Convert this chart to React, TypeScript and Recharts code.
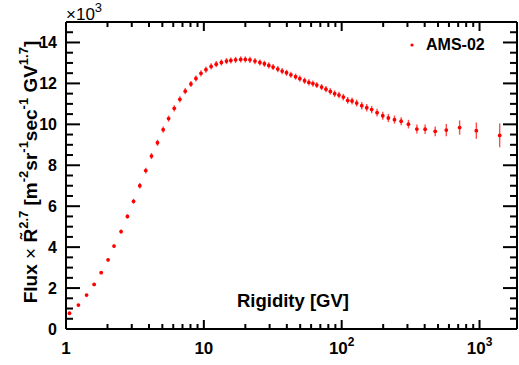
import React from 'react'
import { ScatterChart, Scatter, XAxis, YAxis, ErrorBar, ReferenceLine, Legend } from 'recharts'

// AMS-02 flux x R^2.7, values in units of 10^3
const rigidity = [
  1.06, 1.23, 1.41, 1.6, 1.8, 2.02, 2.23, 2.51, 2.79, 3.09, 3.43, 3.79, 4.17, 4.61, 5.07, 5.55,
  6.1, 6.7, 7.33, 8.06, 8.76, 9.53, 10.36, 11.3, 12.3, 13.4, 14.6, 15.7, 17.0, 18.5, 20.0, 21.6,
  23.5, 25.5, 27.5, 29.6, 31.8, 34.4, 37, 39.8, 42.8, 46.3, 49.7, 53.8, 57.8, 61.8, 66, 71.5,
  76.9, 82.7, 88.9, 95.6, 102.8, 110.6, 118.9, 128.5, 139.8, 152, 165, 180.6, 198.6, 218, 241.5,
  270, 305, 351, 403, 477, 574, 717, 948, 1400,
]
const flux = [
  0.77, 1.17, 1.66, 2.18, 2.75, 3.38, 4.05, 4.76, 5.5, 6.24, 7.0, 7.74, 8.45, 9.1, 9.74, 10.28,
  10.78, 11.22, 11.62, 11.97, 12.24, 12.49, 12.67, 12.83, 12.94, 13.02, 13.09, 13.12, 13.15, 13.17,
  13.17, 13.15, 13.09, 13.02, 12.96, 12.88, 12.8, 12.7, 12.6, 12.52, 12.42, 12.33, 12.23, 12.13,
  12.05, 11.99, 11.92, 11.82, 11.72, 11.61, 11.5, 11.43, 11.33, 11.17, 11.14, 11.04, 10.91, 10.81,
  10.72, 10.57, 10.42, 10.31, 10.23, 10.15, 10.01, 9.77, 9.76, 9.66, 9.72, 9.84, 9.69, 9.46,
]
const fluxErr = [
  0.03, 0.03, 0.04, 0.05, 0.06, 0.07, 0.08, 0.1, 0.11, 0.12, 0.13, 0.14, 0.15, 0.15, 0.15, 0.15,
  0.15, 0.15, 0.15, 0.15, 0.15, 0.15, 0.15, 0.15, 0.15, 0.15, 0.15, 0.15, 0.15, 0.15, 0.15, 0.15,
  0.15, 0.15, 0.15, 0.15, 0.15, 0.15, 0.15, 0.15, 0.15, 0.15, 0.15, 0.15, 0.15, 0.15, 0.15, 0.15,
  0.15, 0.16, 0.16, 0.16, 0.16, 0.17, 0.17, 0.17, 0.18, 0.18, 0.18, 0.19, 0.19, 0.2, 0.2, 0.2,
  0.21, 0.22, 0.23, 0.24, 0.3, 0.35, 0.4, 0.58,
]

const xMajorTicks = [1, 10, 100, 1000]
const xMinorTicks = [2, 3, 4, 5, 6, 7, 8, 9, 20, 30, 40, 50, 60, 70, 80, 90, 200, 300, 400, 500, 600, 700, 800, 900]
const yMajorTicks = [0, 2, 4, 6, 8, 10, 12, 14]
const yMinorTicks = [0.5, 1, 1.5, 2.5, 3, 3.5, 4.5, 5, 5.5, 6.5, 7, 7.5, 8.5, 9, 9.5, 10.5, 11, 11.5, 12.5, 13, 13.5, 14.5]

const X_MIN = 1
const X_MAX = 1870
const Y_MAX = 15

const W = 519
const H = 365
const PLOT_LEFT = 66
const PLOT_RIGHT = 517
const PLOT_TOP = 22
const PLOT_BOTTOM = 329
const Y_AXIS_W = 60
const X_AXIS_H = 30

const FONT = '"Liberation Sans", Arial, Helvetica, sans-serif'
const RED = '#ff0000'

const data = rigidity.map((r, i) => ({ r, flux: flux[i], err: fluxErr[i] }))

function XTick(props: any) {
  const { x, payload } = props
  const v = payload.value
  const major = xMajorTicks.includes(v)
  const len = major ? 9 : 5
  let label: React.ReactNode = null
  if (major) {
    if (v < 100) {
      label = (
        <text x={x} y={PLOT_BOTTOM + 25} textAnchor="middle" fontFamily={FONT} fontWeight="bold" fontSize={17} fill="#000">
          {String(v)}
        </text>
      )
    } else {
      const exp = Math.round(Math.log10(v))
      label = (
        <text x={x} y={PLOT_BOTTOM + 25} textAnchor="middle" fontFamily={FONT} fontWeight="bold" fontSize={17} fill="#000">
          10
          <tspan dy={-8} fontSize={12}>{exp}</tspan>
        </text>
      )
    }
  }
  return (
    <g>
      <line x1={x} x2={x} y1={PLOT_BOTTOM} y2={PLOT_BOTTOM - len} stroke="#000" strokeWidth={2} />
      <line x1={x} x2={x} y1={PLOT_TOP} y2={PLOT_TOP + len} stroke="#000" strokeWidth={2} />
      {label}
    </g>
  )
}

function YTick(props: any) {
  const { y, payload } = props
  const v = payload.value
  const major = yMajorTicks.includes(v)
  const len = major ? 14 : 7
  return (
    <g>
      <line x1={PLOT_LEFT} x2={PLOT_LEFT + len} y1={y} y2={y} stroke="#000" strokeWidth={2} />
      <line x1={PLOT_RIGHT} x2={PLOT_RIGHT - len} y1={y} y2={y} stroke="#000" strokeWidth={2} />
      {major && (
        <text x={57} y={y + 6} textAnchor="end" fontFamily={FONT} fontWeight="bold" fontSize={16} fill="#000">
          {String(v)}
        </text>
      )}
    </g>
  )
}

function YLabel() {
  const cx = 37
  const cy = 172
  return (
    <g>
      <text x={PLOT_LEFT} y={20} fontFamily={FONT} fontSize={17} fill="#000">
        ×10
        <tspan dy={-8} fontSize={13}>3</tspan>
      </text>
      <text
        x={cx}
        y={cy}
        transform={`rotate(-90, ${cx}, ${cy})`}
        textAnchor="middle"
        fontFamily={FONT}
        fontWeight="bold"
        fontSize={19}
        fill="#000"
      >
        Flux<tspan fontWeight="normal"> × </tspan>R̃
        <tspan dy={-9} fontSize={13}>2.7</tspan>
        <tspan dy={9}>{'   [m'}</tspan>
        <tspan dy={-9} fontSize={13}>-2</tspan>
        <tspan dy={9}>sr</tspan>
        <tspan dy={-9} fontSize={13}>-1</tspan>
        <tspan dy={9}>sec</tspan>
        <tspan dy={-9} fontSize={13}>-1</tspan>
        <tspan dy={9}> GV</tspan>
        <tspan dy={-9} fontSize={13}>1.7</tspan>
        <tspan dy={9}>]</tspan>
      </text>
    </g>
  )
}

function XLabel() {
  return (
    <text x={293} y={307} textAnchor="middle" fontFamily={FONT} fontWeight="bold" fontSize={18.5} fill="#000">
      Rigidity [GV]
    </text>
  )
}

function Dot(props: any) {
  const { cx, cy } = props
  if (cx == null || cy == null) return null
  return <circle cx={cx} cy={cy} r={1.9} fill={RED} />
}

function LegendBox() {
  return (
    <div style={{ display: 'flex', alignItems: 'center', fontFamily: FONT, fontWeight: 'bold', fontSize: 16, color: '#000' }}>
      <svg width={10} height={10} style={{ marginRight: 9 }}>
        <circle cx={5} cy={5} r={1.6} fill={RED} />
      </svg>
      AMS-02
    </div>
  )
}

export default function App() {
  return (
    <div style={{ position: 'absolute', left: 0, top: 0, width: W, height: H, background: '#fff' }}>
      <ScatterChart
        width={W}
        height={H}
        margin={{
          top: PLOT_TOP,
          right: W - PLOT_RIGHT,
          bottom: H - PLOT_BOTTOM - X_AXIS_H,
          left: PLOT_LEFT - Y_AXIS_W,
        }}
      >
        <XAxis
          type="number"
          dataKey="r"
          scale="log"
          domain={[X_MIN, X_MAX]}
          allowDataOverflow
          ticks={[...xMajorTicks, ...xMinorTicks]}
          interval={0}
          tick={<XTick />}
          tickLine={false}
          axisLine={{ stroke: '#000', strokeWidth: 2 }}
          height={X_AXIS_H}
          label={<XLabel />}
        />
        <YAxis
          type="number"
          dataKey="flux"
          domain={[0, Y_MAX]}
          allowDataOverflow
          ticks={[...yMajorTicks, ...yMinorTicks]}
          interval={0}
          tick={<YTick />}
          tickLine={false}
          axisLine={{ stroke: '#000', strokeWidth: 2 }}
          width={Y_AXIS_W}
          label={<YLabel />}
        />
        <ReferenceLine y={Y_MAX} stroke="#000" strokeWidth={2} ifOverflow="visible" />
        <ReferenceLine x={X_MAX} stroke="#000" strokeWidth={2} ifOverflow="visible" />
        <Legend
          layout="vertical"
          align="center"
          verticalAlign="middle"
          content={<LegendBox />}
          wrapperStyle={{ left: 407, top: 36, width: 100, height: 20 }}
        />
        <Scatter name="AMS-02" data={data} shape={<Dot />} isAnimationActive={false}>
          <ErrorBar dataKey="err" direction="y" width={0} stroke={RED} strokeOpacity={0.7} strokeWidth={1.4} isAnimationActive={false} />
        </Scatter>
      </ScatterChart>
    </div>
  )
}
